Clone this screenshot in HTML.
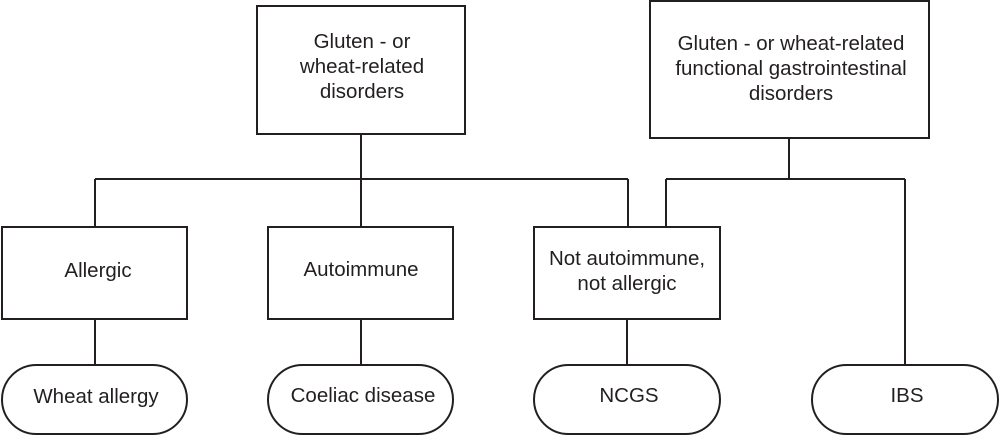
<!DOCTYPE html>
<html><head><meta charset="utf-8"><style>
html,body{margin:0;padding:0;background:#fff;}
svg{display:block;}
text{font-family:"Liberation Sans",Arial,sans-serif;font-size:20.5px;fill:#231f20;text-anchor:middle;}
</style></head><body>
<svg width="1000" height="437" viewBox="0 0 1000 437" xmlns="http://www.w3.org/2000/svg">
<g fill="none" stroke="#231f20" stroke-width="2">
<rect x="257" y="6" width="208" height="128"/>
<rect x="650" y="1" width="279" height="137"/>
<rect x="2" y="227" width="185" height="92"/>
<rect x="268" y="227" width="185" height="92"/>
<rect x="534" y="227" width="186" height="92"/>
<rect x="2" y="365" width="185" height="69" rx="34.5"/>
<rect x="268" y="365" width="185" height="69" rx="34.5"/>
<rect x="534" y="365" width="186" height="69" rx="34.5"/>
<rect x="812" y="365" width="186" height="69" rx="34.5"/>
<path d="M361 134V179M95 179H628M95 179V227M361 179V227M628 179V227"/>
<path d="M789 138V179M666 179H905M666 179V227M905 179V365"/>
<path d="M95 319V365M361 319V365M627 319V365"/>
</g>
<text x="362" y="48">Gluten - or</text>
<text x="362" y="73">wheat-related</text>
<text x="362" y="98">disorders</text>
<text x="791" y="50">Gluten - or wheat-related</text>
<text x="791" y="75">functional gastrointestinal</text>
<text x="791" y="100">disorders</text>
<text x="98" y="277">Allergic</text>
<text x="361" y="276">Autoimmune</text>
<text x="627" y="265">Not autoimmune,</text>
<text x="627" y="290">not allergic</text>
<text x="96" y="403">Wheat allergy</text>
<text x="363" y="402">Coeliac disease</text>
<text x="629" y="402">NCGS</text>
<text x="907" y="402">IBS</text>
</svg>
</body></html>
